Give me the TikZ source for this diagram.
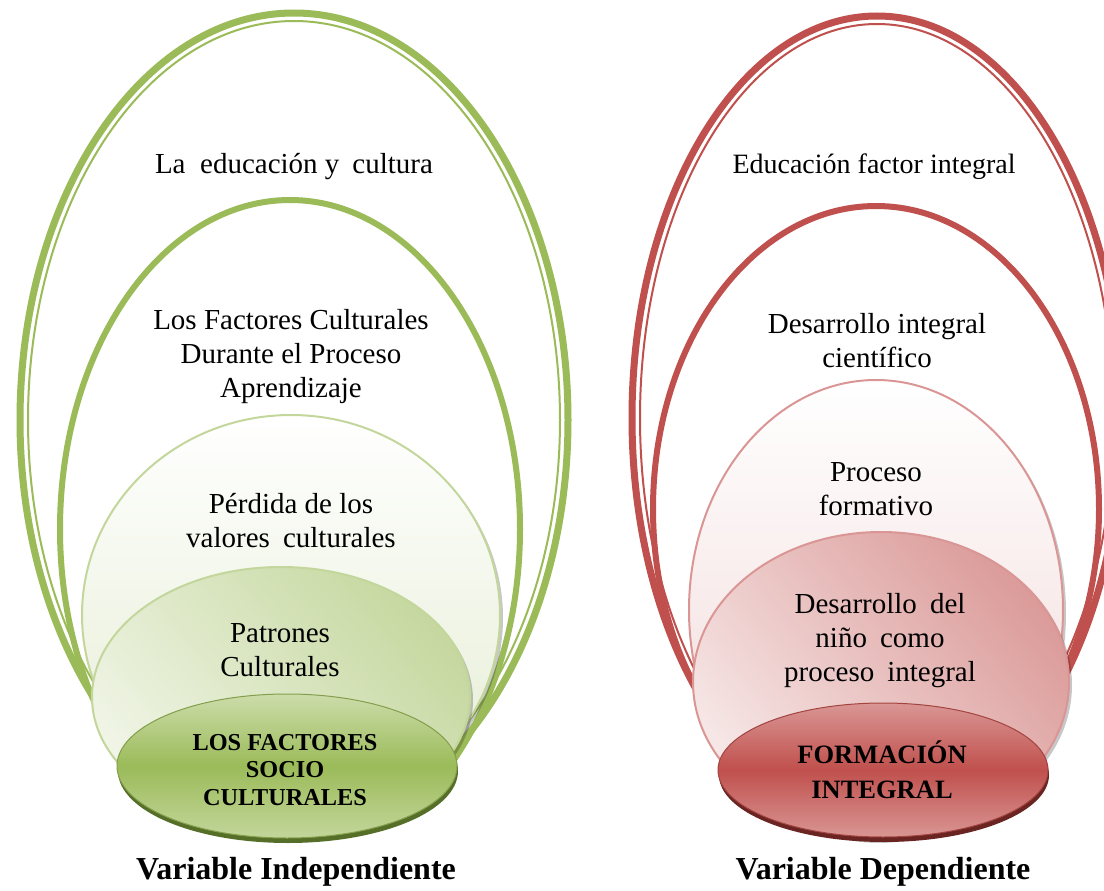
\documentclass[tikz,border=0pt]{standalone}
\usepackage{fontspec}
\setmainfont{Liberation Serif}
\definecolor{gline}{HTML}{9BBB59}
\definecolor{glight}{HTML}{C3D69B}
\definecolor{gdark}{HTML}{566F28}
\definecolor{rline}{HTML}{C0504D}
\definecolor{rlight}{HTML}{D99694}
\definecolor{rdark}{HTML}{6A2422}
\begin{document}
\begin{tikzpicture}[x=1pt,y=-1pt,
  txt/.style={font=\fontsize{29}{34}\selectfont, align=center, inner sep=0pt, text=black},
  gbold/.style={font=\fontsize{24.3}{27.5}\selectfont\bfseries, align=center, inner sep=0pt},
  rbold/.style={font=\fontsize{26.5}{35}\selectfont\bfseries, align=center, inner sep=0pt},
  vlabel/.style={font=\fontsize{32}{36}\selectfont\bfseries, inner sep=0pt},
  softshadow/.style={fill=black, opacity=0.22}]
\useasboundingbox (0,0) rectangle (1104,891);
\fill[white] (0,0) rectangle (1104,891);

% ---------- outer rings ----------
\begin{scope}
\clip (0,0) rectangle (1104,770);
\draw[gline, line width=7pt] (294,420) ellipse [x radius=274pt, y radius=407pt];
\draw[gline, line width=2pt] (294,420) ellipse [x radius=266pt, y radius=399pt];
\draw[gline, line width=6pt] (290,529) ellipse [x radius=230pt, y radius=329pt];
\draw[rline, line width=7pt] (877,418) ellipse [x radius=245pt, y radius=402pt];
\draw[rline, line width=2pt] (877,418) ellipse [x radius=237pt, y radius=394pt];
\draw[rline, line width=6pt] (876,509) ellipse [x radius=223pt, y radius=303pt];
\end{scope}

% ---------- left inner shapes ----------
\fill[softshadow] (294,618) ellipse [x radius=209pt, y radius=200pt];
\path[draw=glight, line width=2pt, top color=white, bottom color=glight!45!white]
  (291,615) ellipse [x radius=209pt, y radius=200pt];
\fill[softshadow] (284,700) ellipse [x radius=189pt, y radius=130pt];
\path[draw=glight, line width=2pt, top color={glight!95!white}, bottom color={glight!25!white}, shading angle=-50]
  (281,697) ellipse [x radius=189pt, y radius=130pt];
\fill[gdark] (288,771) ellipse [x radius=170pt, y radius=72pt];
\path[draw=gline!85!black, line width=1pt, top color=glight!85!white, bottom color=glight, middle color=gline]
  (287,766) ellipse [x radius=170pt, y radius=72pt];

% ---------- right inner shapes ----------
\fill[softshadow] (879,613) ellipse [x radius=187pt, y radius=230pt];
\path[draw=rlight, line width=2pt, top color=white, bottom color=rlight!38!white]
  (876,610) ellipse [x radius=187pt, y radius=230pt];
\fill[softshadow] (884,685) ellipse [x radius=188pt, y radius=150pt];
\path[draw=rlight, line width=2pt, top color={rlight!95!white}, bottom color={rlight!22!white}, shading angle=-50]
  (881,682) ellipse [x radius=188pt, y radius=150pt];
\fill[rdark] (884,775) ellipse [x radius=165pt, y radius=67pt];
\path[draw=rline!85!black, line width=1pt, top color=rlight, bottom color=rlight, middle color=rline]
  (883,770) ellipse [x radius=165pt, y radius=67pt];

% ---------- left texts ----------
\node[txt] (l1) at (294,167) {La\hspace{0.25em} educación y\hspace{0.2em} cultura};
\node[txt] (l2) at (291,357) {Los Factores Culturales\\Durante el Proceso\\Aprendizaje};
\node[txt] (l3) at (291,521) {Pérdida de los\\valores\hspace{0.2em} culturales};
\node[txt] (l4) at (280,650) {Patrones\\Culturales};
\node[gbold] (l5) at (285,770) {LOS FACTORES\\SOCIO\\CULTURALES};
\node[vlabel] (lv) at (296,872) {Variable Independiente};

% ---------- right texts ----------
\node[txt, font=\fontsize{28}{34}\selectfont] (r1) at (874,167) {Educación factor integral};
\node[txt] (r2) at (877,341) {Desarrollo integral\\científico};
\node[txt] (r3) at (876,489) {Proceso\\formativo};
\node[txt] (r4) at (880,641) {Desarrollo\hspace{0.2em} del\\niño\hspace{0.2em} como\\proceso\hspace{0.2em} integral};
\node[rbold] (r5) at (882,770) {FORMACIÓN\\INTEGRAL};
\node[vlabel] (rv) at (883,872) {Variable Dependiente};
\end{tikzpicture}
\end{document}
